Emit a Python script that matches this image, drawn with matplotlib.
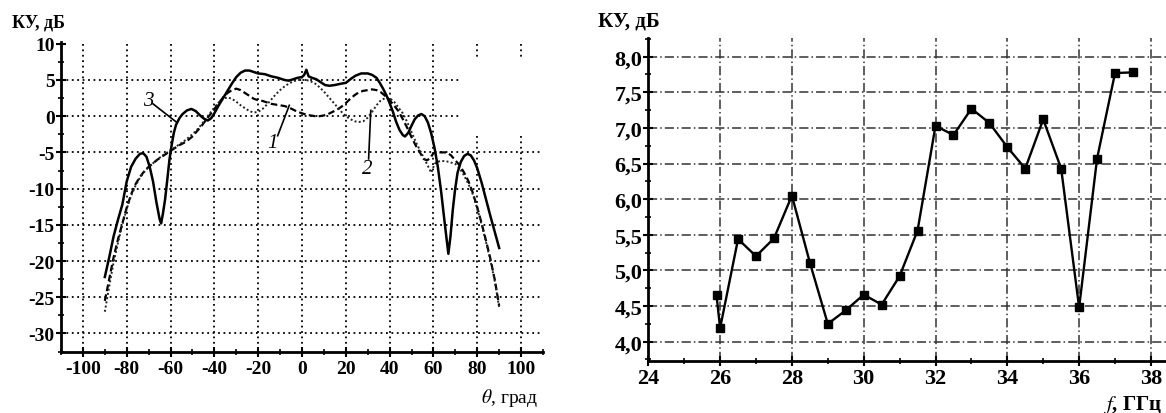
import numpy as np
import matplotlib
matplotlib.use("Agg")
import matplotlib.pyplot as plt
from matplotlib.ticker import MultipleLocator, FuncFormatter

plt.rcParams['font.family'] = ['Liberation Serif', 'DejaVu Serif']
plt.rcParams['mathtext.fontset'] = 'stix'
plt.rcParams['axes.unicode_minus'] = False

# left panel: radiation patterns, theta in degrees, gain in dB
theta3 = [-90, -88, -86, -84, -82, -80, -78, -76, -74, -72.5, -71, -69.5, -68, -66.5, -65, -64.3,
          -63.5, -62.5, -61.5, -60.5, -59.5, -58.5, -57.5, -56, -54.5, -52.5, -50.5, -48.5, -46.5,
          -44.5, -43, -41.5, -40, -38, -36, -34, -32, -30, -28, -26, -24, -22, -20, -17, -14, -11,
          -8, -6, -4, -2, 0, 1, 2, 3, 4.5, 6.5, 8.5, 10.5, 12.5, 15, 18, 20, 22.5, 24.5, 27, 30,
          32, 34, 35.5, 37, 38.5, 40, 41.5, 43, 44.5, 46, 47, 48.5, 50, 51.5, 53, 54.5, 56, 57.5,
          59, 60.5, 62, 63.5, 65, 66.8, 67.8, 68.8, 69.8, 71, 72.5, 74, 75.5, 77, 78.5, 80, 82,
          84, 86, 88, 90]
gain3 = [-22.2, -19.5, -16.6, -14.3, -12.2, -9.0, -7.0, -5.9, -5.2, -5.1, -5.6, -7.0, -9.0, -11.8,
         -14.2, -14.8, -13.5, -11.5, -8.8, -6.0, -4.0, -2.3, -1.2, -0.3, 0.3, 0.8, 1.0, 0.7, 0.1,
         -0.4, -0.6, -0.3, 0.4, 1.5, 2.5, 3.5, 4.5, 5.4, 6.0, 6.3, 6.3, 6.1, 5.9, 5.8, 5.5, 5.3,
         5.0, 4.9, 5.1, 5.3, 5.4, 5.7, 6.4, 5.5, 5.3, 5.1, 4.7, 4.3, 4.2, 4.3, 4.5, 4.6, 5.2, 5.6,
         5.9, 5.9, 5.7, 5.3, 4.6, 3.8, 2.9, 1.8, 0.6, -0.8, -1.9, -2.6, -2.8, -2.3, -1.3, -0.4,
         0.1, 0.3, 0.0, -0.9, -2.4, -4.4, -7.0, -10.4, -14.4, -19.0, -16.5, -13.0, -10.3, -7.8,
         -6.3, -5.5, -5.2, -5.4, -6.1, -7.2, -9.2, -11.5, -13.8, -16.0, -18.2]

theta1 = [-90, -88, -86, -84, -82, -80, -78, -76, -74, -72, -70, -68, -66, -64, -62, -60, -58, -56,
          -54, -52, -50, -48, -46, -44, -42, -40, -38, -36, -34, -32, -30, -28, -26, -24, -22, -20,
          -18, -16, -14, -12, -10, -8, -6, -4, -2, 0, 2, 4, 6, 8, 10, 12, 14, 16, 18, 20, 22, 24,
          26, 28, 30, 32, 34, 36, 38, 40, 42, 44, 46, 48, 50, 52, 54, 55.5, 57, 58.5, 60, 62, 64,
          66, 68, 70, 72, 74, 76, 78, 80, 82, 84, 86, 88, 90]
gain1 = [-25.5, -22.5, -19.5, -17.0, -14.8, -12.6, -10.8, -9.4, -8.4, -7.6, -7.0, -6.5, -6.0, -5.6,
         -5.2, -4.8, -4.4, -4.0, -3.7, -3.3, -2.8, -2.1, -1.4, -0.6, 0.2, 1.0, 1.8, 2.6, 3.2, 3.6,
         3.8, 3.6, 3.2, 2.8, 2.4, 2.2, 2.1, 1.9, 1.7, 1.6, 1.5, 1.4, 1.2, 0.9, 0.6, 0.4, 0.2, 0.1,
         0.0, 0.0, 0.1, 0.3, 0.6, 0.9, 1.3, 1.8, 2.4, 2.9, 3.3, 3.5, 3.6, 3.7, 3.6, 3.3, 2.8, 2.2,
         1.5, 0.7, -0.4, -1.6, -2.9, -4.1, -5.1, -5.9, -6.1, -5.8, -5.1, -5.0, -5.0, -5.0, -5.4,
         -6.1, -6.8, -7.8, -9.0, -10.6, -12.6, -14.8, -17.2, -19.7, -22.6, -26.2]

theta2 = [-90, -88, -86, -84, -82, -80, -78, -76, -74, -72, -70, -68, -66, -64, -62, -60, -58, -56,
          -54, -52, -50, -48, -46, -44, -42, -40, -38, -36, -34, -32, -30, -28, -26, -24, -22, -20,
          -18, -16, -14, -12, -10, -8, -6, -4, -2, 0, 2, 4, 6, 8, 10, 12, 14, 16, 18, 20, 22, 24,
          26, 28, 30, 32, 34, 36, 38, 40, 42, 44, 46, 48, 50, 52, 54, 56, 58, 59, 60, 61, 63, 65,
          67, 70, 72, 74, 76, 78, 80, 82, 84, 86, 88, 90]
gain2 = [-27.0, -23.5, -20.2, -17.5, -15.0, -12.8, -11.0, -9.6, -8.5, -7.7, -7.0, -6.5, -6.0, -5.5,
         -5.1, -4.7, -4.3, -3.9, -3.5, -3.0, -2.5, -1.9, -1.2, -0.4, 0.4, 1.2, 1.9, 2.4, 2.6, 2.4,
         2.0, 1.5, 1.1, 0.7, 0.5, 0.6, 1.0, 1.6, 2.3, 3.0, 3.6, 4.1, 4.5, 4.8, 5.0, 5.0, 5.0, 4.8,
         4.5, 4.0, 3.4, 2.7, 2.0, 1.3, 0.6, 0.0, -0.4, -0.7, -0.8, -0.7, -0.2, 0.6, 1.5, 2.2, 2.5,
         2.5, 2.0, 1.2, 0.4, -0.8, -2.2, -3.6, -4.8, -6.0, -7.2, -7.8, -7.0, -6.4, -6.2, -6.2,
         -6.3, -6.6, -7.2, -8.2, -9.4, -10.8, -12.8, -15.0, -17.4, -19.9, -22.8, -26.4]

# right panel: gain vs frequency
freq = [25.9, 26.0, 26.5, 27.0, 27.5, 28.0, 28.5, 29.0, 29.5, 30.0, 30.5, 31.0, 31.5,
        32.0, 32.5, 33.0, 33.5, 34.0, 34.5, 35.0, 35.5, 36.0, 36.5, 37.0, 37.5]
gain_f = [4.65, 4.19, 5.44, 5.20, 5.45, 6.05, 5.11, 4.25, 4.44, 4.66, 4.52, 4.92, 5.56,
          7.03, 6.90, 7.27, 7.07, 6.73, 6.43, 7.12, 6.43, 4.48, 6.57, 7.77, 7.78]

W, H = 1166, 414
fig = plt.figure(figsize=(W / 100, H / 100), dpi=100)


def fx(px):
    return px / W


def fy(py):
    return 1 - py / H


def style_axes(ax, lw=2.0):
    for s in ['top', 'right']:
        ax.spines[s].set_visible(False)
    for s in ['left', 'bottom']:
        ax.spines[s].set_linewidth(lw)
    ax.tick_params(which='major', direction='inout', length=7, width=1.5)
    ax.tick_params(which='minor', direction='inout', length=4, width=1.2)


# ---------- left panel ----------
ax1 = fig.add_axes([fx(61), fy(353.3), fx(482), (353.3 - 43.3) / H])
ax1.set_xlim(-110, 110)
ax1.set_ylim(-32.6, 10.2)
style_axes(ax1)
ax1.set_xticks(range(-100, 101, 20))
ax1.set_yticks(range(-30, 11, 5))
ax1.xaxis.set_minor_locator(MultipleLocator(10))
ax1.yaxis.set_minor_locator(MultipleLocator(2.5))
for lab in ax1.get_xticklabels() + ax1.get_yticklabels():
    lab.set_fontsize(14)
    lab.set_fontweight('bold')
ax1.tick_params(axis='x', pad=2)
ax1.tick_params(axis='y', pad=1)

gkw = dict(color='black', linestyle=(0, (1, 2)), linewidth=1.3, zorder=1)
for yv in range(-30, 6, 5):
    xmax = 72 if yv >= 0 else 110
    ax1.plot([-110, xmax], [yv, yv], **gkw)
for xv in range(-100, 101, 20):
    if xv >= 80:
        ax1.plot([xv, xv], [10, 7.7], **gkw)
        ax1.plot([xv, xv], [-2.7, -32.6], **gkw)
    else:
        ax1.plot([xv, xv], [10, -32.6], **gkw)

ax1.plot(theta3, gain3, color='black', linewidth=1.8, zorder=4)
ax1.plot(theta1, gain1, color='black', linewidth=1.6, linestyle=(0, (3, 1.5)), zorder=3)
ax1.plot(theta2, gain2, color='#222222', linewidth=1.4, linestyle=(0, (1, 1.2)), zorder=3)

# curve labels with leader lines
ax1.plot([-68, -57.4], [1.7, -0.8], color='black', linewidth=1.2, zorder=5)
ax1.text(-70.3, 2.2, '3', fontsize=15, style='italic', ha='center', va='center')
ax1.plot([-11.1, -5.8], [-2.7, 1.5], color='black', linewidth=1.2, zorder=5)
ax1.text(-13.4, -3.6, '1', fontsize=15, style='italic', ha='center', va='center')
ax1.plot([30.4, 31.4], [-5.9, 0.8], color='black', linewidth=1.2, zorder=5)
ax1.text(29.9, -7.2, '2', fontsize=15, style='italic', ha='center', va='center')

fig.text(fx(12), fy(23), 'КУ, дБ', fontsize=13, fontweight='bold', ha='left', va='center')
fig.text(fx(538), fy(398), r'$\theta$, град', fontsize=14, ha='right', va='center')

# ---------- right panel ----------
ax2 = fig.add_axes([fx(648.3), fy(361.7), fx(517.7), (361.7 - 39.3) / H])
ax2.set_xlim(24, 38.42)
ax2.set_ylim(3.733, 8.258)
style_axes(ax2)
ax2.set_xticks(range(24, 39, 2))
ax2.xaxis.set_minor_locator(MultipleLocator(1))
ax2.set_yticks(np.arange(4.0, 8.01, 0.5))
ax2.yaxis.set_minor_locator(MultipleLocator(0.25))
ax2.yaxis.set_major_formatter(FuncFormatter(lambda v, p: f'{v:.1f}'.replace('.', ',')))
for lab in ax2.get_xticklabels() + ax2.get_yticklabels():
    lab.set_fontsize(16)
    lab.set_fontweight('bold')
ax2.tick_params(axis='x', pad=2)
ax2.tick_params(axis='y', pad=1)

g2kw = dict(color='#333333', linestyle=(0, (6, 2, 1, 2)), linewidth=1.1, zorder=1)
for yv in np.arange(4.0, 8.01, 0.5):
    ax2.plot([24, 38.42], [yv, yv], **g2kw)
for xv in range(26, 39, 2):
    ax2.plot([xv, xv], [3.733, 8.258], **g2kw)

ax2.plot(freq, gain_f, color='black', linewidth=1.7, marker='s', markersize=5.5,
         markerfacecolor='black', zorder=3)

fig.text(fx(598), fy(22), 'КУ, дБ', fontsize=15, fontweight='bold', ha='left', va='center')
fig.text(fx(1162), fy(405), r'$f$, ГГц', fontsize=15, fontweight='bold', ha='right', va='center')

fig.savefig('out.png', dpi=100)
